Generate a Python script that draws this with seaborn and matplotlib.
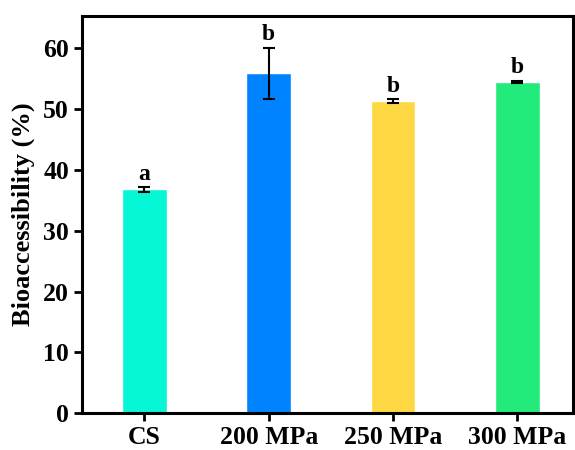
import numpy as np
import matplotlib
matplotlib.use('Agg')
import matplotlib.pyplot as plt
import pandas as pd
import seaborn as sns

# 数据
groups = ['CS', '200 MPa', '250 MPa', '300 MPa']
values = [36.8, 55.9, 51.3, 54.5]
errors = [0.4, 4.2, 0.35, 0.2]
letters = ['a', 'b', 'b', 'b']
colors = ['#05F7D6', '#0083FF', '#FDD843', '#22EA7B']

sns.set_theme(style='ticks')
plt.rcParams['font.family'] = ['Liberation Serif', 'DejaVu Serif']
plt.rcParams['font.weight'] = 'bold'
plt.rcParams['text.color'] = 'black'
plt.rcParams['axes.labelcolor'] = 'black'
plt.rcParams['xtick.color'] = 'black'
plt.rcParams['ytick.color'] = 'black'

df = pd.DataFrame({'group': groups, 'value': values})

fig = plt.figure(figsize=(5.75, 4.5), dpi=100)
ax = fig.add_axes([0.143, 0.082, 0.854, 0.882])
sns.barplot(data=df, x='group', y='value', hue='group', palette=colors,
            width=0.36, legend=False, ax=ax, errorbar=None, saturation=1)
ax.errorbar(np.arange(len(groups)), values, yerr=errors, fmt='none',
            ecolor='black', elinewidth=1.5, capsize=4, capthick=1.5)

for i, (v, e, t) in enumerate(zip(values, errors, letters)):
    ax.text(i, v + e + 0.4, t, ha='center', va='bottom', fontsize=17, fontweight='bold')

ax.set_ylim(0, 65.3)
ax.set_xlim(-0.5, 3.45)
ax.set_yticks(range(0, 61, 10))
ax.set_xlabel('')
ax.set_ylabel('Bioaccessibility (%)', fontsize=19, fontweight='bold', labelpad=6)
ax.tick_params(axis='both', labelsize=18.5, width=2, length=6, direction='out')
for lab in ax.get_xticklabels() + ax.get_yticklabels():
    lab.set_fontweight('bold')
for s in ax.spines.values():
    s.set_visible(True)
    s.set_linewidth(2.2)
    s.set_color('black')

plt.savefig('out.png', dpi=100)
